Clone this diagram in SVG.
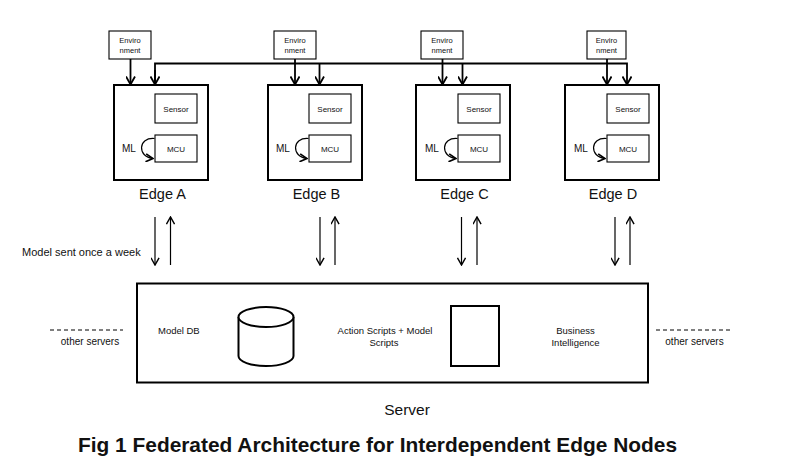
<svg xmlns="http://www.w3.org/2000/svg" width="792" height="470" viewBox="0 0 792 470">
<defs>
<marker id="ah" viewBox="0 0 10 10" refX="9" refY="5" markerWidth="10" markerHeight="10" markerUnits="userSpaceOnUse" orient="auto">
<path d="M1,0.5 L9,5 L1,9.5" fill="none" stroke="#000" stroke-width="1.8"/>
</marker>
<marker id="ahs" viewBox="0 0 10 10" refX="9" refY="5" markerWidth="9" markerHeight="9" markerUnits="userSpaceOnUse" orient="auto">
<path d="M1,0.5 L9,5 L1,9.5" fill="none" stroke="#000" stroke-width="1.8"/>
</marker>
<marker id="ahl" viewBox="0 0 10 10" refX="9" refY="5" markerWidth="9" markerHeight="9" markerUnits="userSpaceOnUse" orient="auto">
<path d="M1,0.5 L9,5 L1,9.5" fill="none" stroke="#000" stroke-width="1.6"/>
</marker>
</defs>
<style>
text{font-family:"Liberation Sans",Arial,sans-serif;fill:#111}
.edge{fill:#fff;stroke:#000;stroke-width:2}
.thin{fill:#fff;stroke:#000;stroke-width:1.1}
.thick{fill:#fff;stroke:#000;stroke-width:2}
.conn{fill:none;stroke:#000;stroke-width:1.8}
.flow{fill:none;stroke:#000;stroke-width:1.2}
.env{font-size:7.5px}
.small{font-size:8px}
.ml{font-size:10px}
.lbl{font-size:14.5px}
.mid{font-size:9.5px}
</style>
<rect width="792" height="470" fill="#fff"/>

<g id="edgeA">
<rect class="edge" x="114" y="85" width="94" height="95"/>
<rect class="thin" x="155" y="94" width="42" height="29"/>
<text class="small" x="176" y="111.5" text-anchor="middle">Sensor</text>
<rect class="thin" x="155" y="135" width="42" height="27"/>
<text class="small" x="176" y="151.5" text-anchor="middle">MCU</text>
<text class="ml" x="122" y="151.5">ML</text>
<path class="flow" d="M154.5,138.5 C138,137 137,157 153,158.5" marker-end="url(#ahs)" stroke-width="1.3"/>
<text class="lbl" x="162.5" y="198.5" text-anchor="middle">Edge A</text>
</g>
<g id="edgeB">
<rect class="edge" x="268" y="85" width="94" height="95"/>
<rect class="thin" x="309" y="94" width="42" height="29"/>
<text class="small" x="330" y="111.5" text-anchor="middle">Sensor</text>
<rect class="thin" x="309" y="135" width="42" height="27"/>
<text class="small" x="330" y="151.5" text-anchor="middle">MCU</text>
<text class="ml" x="276" y="151.5">ML</text>
<path class="flow" d="M308.5,138.5 C292,137 291,157 307,158.5" marker-end="url(#ahs)" stroke-width="1.3"/>
<text class="lbl" x="316.5" y="198.5" text-anchor="middle">Edge B</text>
</g>
<g id="edgeC">
<rect class="edge" x="416" y="85" width="94" height="95"/>
<rect class="thin" x="458" y="94" width="42" height="29"/>
<text class="small" x="479" y="111.5" text-anchor="middle">Sensor</text>
<rect class="thin" x="458" y="135" width="42" height="27"/>
<text class="small" x="479" y="151.5" text-anchor="middle">MCU</text>
<text class="ml" x="425" y="151.5">ML</text>
<path class="flow" d="M457.5,138.5 C441,137 440,157 456,158.5" marker-end="url(#ahs)" stroke-width="1.3"/>
<text class="lbl" x="464.5" y="198.5" text-anchor="middle">Edge C</text>
</g>
<g id="edgeD">
<rect class="edge" x="565" y="85" width="94" height="95"/>
<rect class="thin" x="607" y="94" width="42" height="29"/>
<text class="small" x="628" y="111.5" text-anchor="middle">Sensor</text>
<rect class="thin" x="607" y="135" width="42" height="27"/>
<text class="small" x="628" y="151.5" text-anchor="middle">MCU</text>
<text class="ml" x="574" y="151.5">ML</text>
<path class="flow" d="M606.5,138.5 C590,137 589,157 605,158.5" marker-end="url(#ahs)" stroke-width="1.3"/>
<text class="lbl" x="613" y="198.5" text-anchor="middle">Edge D</text>
</g>

<g id="envA">
<rect class="thin" x="109" y="31" width="42" height="28"/>
<text class="env" x="130" y="42.5" text-anchor="middle">Enviro</text>
<text class="env" x="130" y="52.5" text-anchor="middle">nment</text>
</g>
<g id="envB">
<rect class="thin" x="274" y="31" width="42" height="28"/>
<text class="env" x="295" y="42.5" text-anchor="middle">Enviro</text>
<text class="env" x="295" y="52.5" text-anchor="middle">nment</text>
</g>
<g id="envC">
<rect class="thin" x="421" y="31" width="42" height="28"/>
<text class="env" x="442" y="42.5" text-anchor="middle">Enviro</text>
<text class="env" x="442" y="52.5" text-anchor="middle">nment</text>
</g>
<g id="envD">
<rect class="thin" x="587" y="31" width="39" height="28"/>
<text class="env" x="606.5" y="42.5" text-anchor="middle">Enviro</text>
<text class="env" x="606.5" y="52.5" text-anchor="middle">nment</text>
</g>

<g id="server">
<rect class="thick" x="137" y="283.5" width="511" height="99"/>
<text class="mid" x="158" y="334">Model DB</text>
<path class="thick" d="M238.5,317 L238.5,356 A27.5,10 0 0 0 293.5,356 L293.5,317"/>
<ellipse class="thick" cx="266" cy="317" rx="27.5" ry="10"/>
<text class="mid" x="385" y="334" text-anchor="middle">Action Scripts + Model</text>
<text class="mid" x="384" y="345.5" text-anchor="middle">Scripts</text>
<rect class="thick" x="451" y="306" width="48" height="60"/>
<text class="mid" x="575.5" y="334" text-anchor="middle">Business</text>
<text class="mid" x="575.5" y="345.5" text-anchor="middle">Intelligence</text>
<text x="407" y="415" text-anchor="middle" font-size="15.5">Server</text>
</g>

<g id="others">
<line x1="50" y1="330" x2="123" y2="330" stroke="#000" stroke-width="1" stroke-dasharray="4,3"/>
<text x="90" y="344.5" text-anchor="middle" font-size="10">other servers</text>
<line x1="656" y1="330" x2="732" y2="330" stroke="#000" stroke-width="1" stroke-dasharray="4,3"/>
<text x="694.5" y="344.5" text-anchor="middle" font-size="10">other servers</text>
</g>

<g id="connectors">
<line class="conn" x1="130.5" y1="59" x2="130.5" y2="84.5" marker-end="url(#ah)"/>
<line class="conn" x1="295" y1="59" x2="295" y2="84.5" marker-end="url(#ah)"/>
<line class="conn" x1="442.5" y1="59" x2="442.5" y2="84.5" marker-end="url(#ah)"/>
<line class="conn" x1="607" y1="59" x2="607" y2="84.5" marker-end="url(#ah)"/>
<path class="conn" d="M155,84.5 L155,63.5 L627,63.5 L627,84.5" marker-end="url(#ah)"/>
<line class="conn" x1="319.5" y1="63.5" x2="319.5" y2="84.5" marker-end="url(#ah)"/>
<line class="conn" x1="462.5" y1="63.5" x2="462.5" y2="84.5" marker-end="url(#ah)"/>
<line class="conn" x1="155" y1="70" x2="155" y2="84.5" marker-end="url(#ah)"/>

<line class="flow" x1="155" y1="217" x2="155" y2="265" marker-end="url(#ahl)"/>
<line class="flow" x1="170.5" y1="265" x2="170.5" y2="217" marker-end="url(#ahl)"/>
<line class="flow" x1="320" y1="217" x2="320" y2="265" marker-end="url(#ahl)"/>
<line class="flow" x1="335" y1="265" x2="335" y2="217" marker-end="url(#ahl)"/>
<line class="flow" x1="461.5" y1="217" x2="461.5" y2="265" marker-end="url(#ahl)"/>
<line class="flow" x1="477" y1="265" x2="477" y2="217" marker-end="url(#ahl)"/>
<line class="flow" x1="615" y1="217" x2="615" y2="265" marker-end="url(#ahl)"/>
<line class="flow" x1="630" y1="265" x2="630" y2="217" marker-end="url(#ahl)"/>
<text x="22" y="256" font-size="11">Model sent once a week</text>
</g>

<text x="78" y="452" font-size="21" font-weight="bold" textLength="599" lengthAdjust="spacingAndGlyphs">Fig 1 Federated Architecture for Interdependent Edge Nodes</text>
</svg>
